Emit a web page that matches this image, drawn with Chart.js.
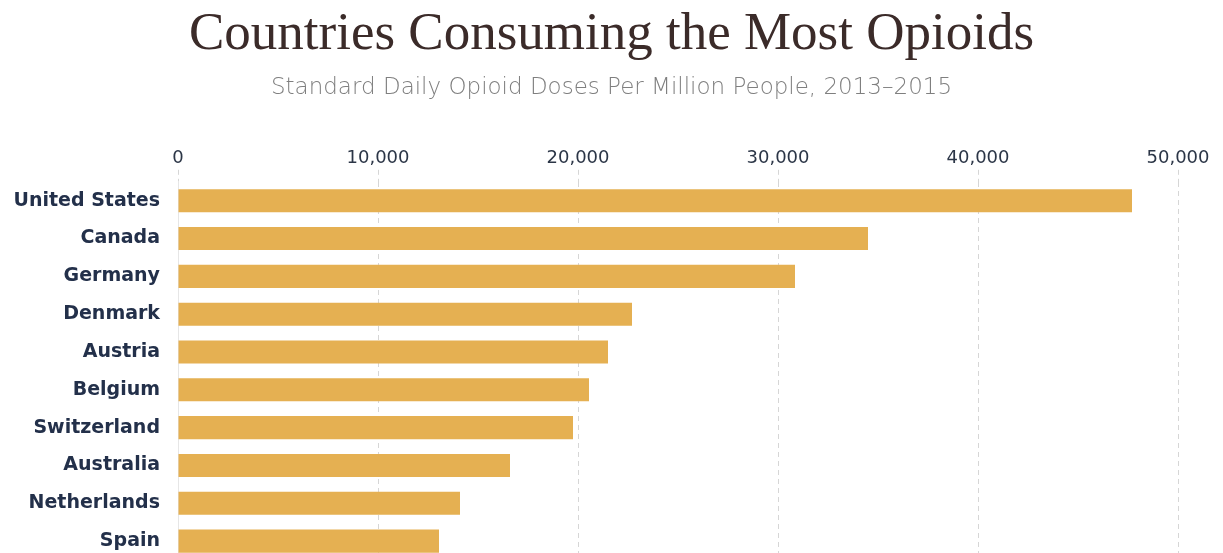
<!DOCTYPE html>
<html>
<head>
<meta charset="utf-8">
<script src="https://cdn.jsdelivr.net/npm/chart.js@4.4.1/dist/chart.umd.min.js"></script>
<style>
  html, body { margin: 0; padding: 0; background: #ffffff; overflow: hidden; }
  canvas { display: block; }
</style>
</head>
<body>
<canvas id="chart" width="1223" height="560"></canvas>
<script>
// Standard daily opioid doses per million people, 2013–2015
const countries = ['United States', 'Canada', 'Germany', 'Denmark', 'Austria',
                   'Belgium', 'Switzerland', 'Australia', 'Netherlands', 'Spain'];
const doses = [47700, 34500, 30850, 22700, 21500, 20550, 19750, 16600, 14100, 13050];
const xTicks = [0, 10000, 20000, 30000, 40000, 50000];

const titleText = 'Countries Consuming the Most Opioids';
const subtitleText = 'Standard Daily Opioid Doses Per Million People, 2013\u20132015';

new Chart(document.getElementById('chart'), {
  type: 'bar',
  data: {
    labels: countries,
    datasets: [{
      data: doses,
      backgroundColor: '#e5b052',
      borderWidth: 0,
      categoryPercentage: 1.0,
      barPercentage: 0.61
    }]
  },
  options: {
    indexAxis: 'y',
    responsive: false,
    animation: false,
    layout: { padding: 0 },
    plugins: {
      legend: { display: false },
      tooltip: { enabled: false },
      title: {
        display: true,
        text: titleText,
        color: '#3b2b29',
        font: { family: '"Liberation Serif", serif', size: 53, weight: 'normal' },
        padding: { top: 3, bottom: 8 }
      },
      subtitle: {
        display: true,
        text: subtitleText,
        color: '#7f7f7f',
        font: { family: '"DejaVu Sans", sans-serif', size: 23, weight: '200' },
        padding: { top: 0, bottom: 44 }
      }
    },
    scales: {
      x: {
        position: 'top',
        min: 0,
        // leaves a margin to the right of the 50,000 line
        max: 52250,
        afterBuildTicks: (scale) => { scale.ticks = xTicks.map(v => ({ value: v })); },
        ticks: {
          color: '#2c3647',
          font: { family: '"DejaVu Sans", sans-serif', size: 18, weight: 'normal' },
          padding: 1,
          callback: (v) => Number(v).toLocaleString('en-US')
        },
        grid: {
          color: '#d6d6d6',
          lineWidth: 1,
          drawTicks: true,
          tickLength: 12,
          tickColor: '#d6d6d6',
          tickBorderDash: [5, 4]
        },
        border: { display: false, dash: [5, 4] }
      },
      y: {
        afterFit: (scale) => {
          scale.width = 178;
          scale.paddingTop = 0;
          scale.paddingBottom = 0;
        },
        ticks: {
          color: '#23304a',
          font: { family: '"DejaVu Sans", sans-serif', size: 19, weight: 'bold' },
          padding: 18
        },
        grid: { display: false, drawTicks: false },
        border: { display: true, color: '#e6e6e6', width: 1 }
      }
    }
  }
});
</script>
</body>
</html>
